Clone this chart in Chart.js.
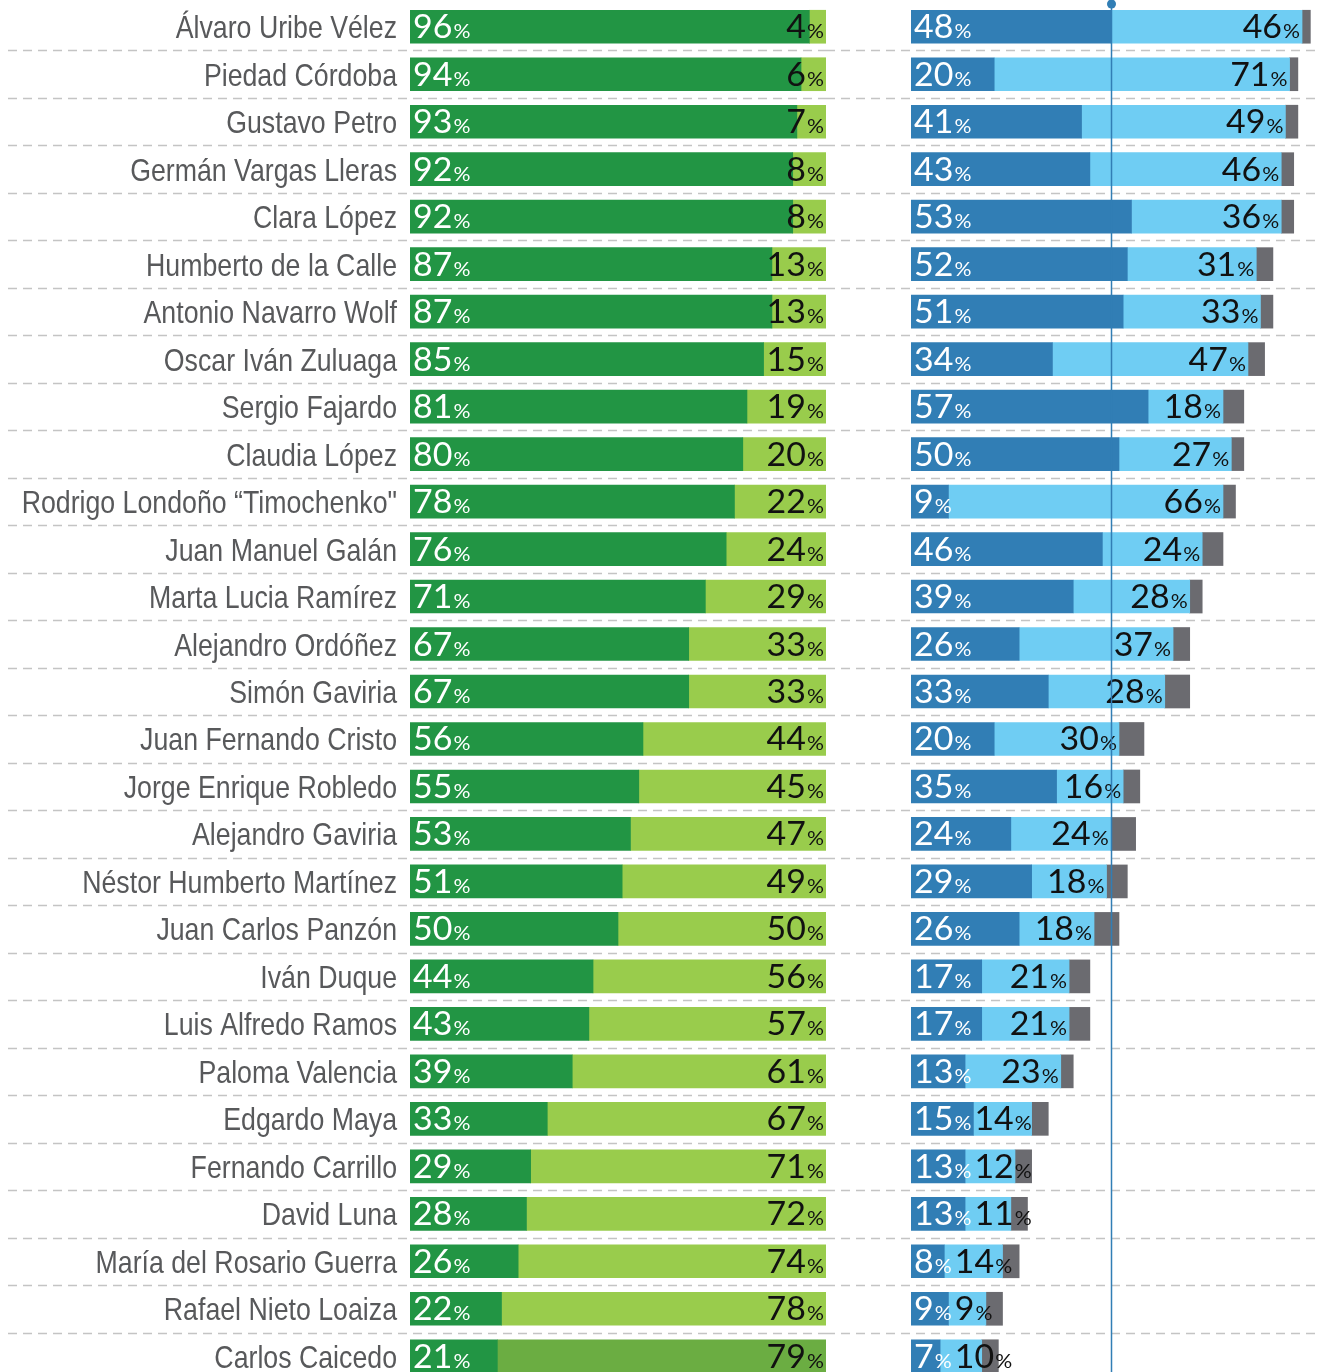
<!DOCTYPE html>
<html>
<head>
<meta charset="utf-8">
<script src="https://cdn.jsdelivr.net/npm/chart.js@4.4.1/dist/chart.umd.min.js"></script>
<style>
    html, body { margin: 0; padding: 0; background: #fff; overflow: hidden; }
    #wrap { position: relative; width: 1317px; height: 1372px; overflow: hidden; }
    #wrap canvas { position: absolute; top: 0; }
</style>
</head>
<body>
<div id="wrap">
    <canvas id="chartKnown" width="826" height="1380" style="left:0"></canvas>
    <canvas id="chartImage" width="501" height="1380" style="left:826px"></canvas>
</div>
<script>
const names = [
    'Álvaro Uribe Vélez', 'Piedad Córdoba', 'Gustavo Petro', 'Germán Vargas Lleras', 'Clara López',
    'Humberto de la Calle', 'Antonio Navarro Wolf', 'Oscar Iván Zuluaga', 'Sergio Fajardo', 'Claudia López',
    'Rodrigo Londoño “Timochenko"', 'Juan Manuel Galán', 'Marta Lucia Ramírez', 'Alejandro Ordóñez', 'Simón Gaviria',
    'Juan Fernando Cristo', 'Jorge Enrique Robledo', 'Alejandro Gaviria', 'Néstor Humberto Martínez', 'Juan Carlos Panzón',
    'Iván Duque', 'Luis Alfredo Ramos', 'Paloma Valencia', 'Edgardo Maya', 'Fernando Carrillo',
    'David Luna', 'María del Rosario Guerra', 'Rafael Nieto Loaiza', 'Carlos Caicedo'
];

// left panel: knows / doesn't know the person
const known   = [96, 94, 93, 92, 92, 87, 87, 85, 81, 80, 78, 76, 71, 67, 67, 56, 55, 53, 51, 50, 44, 43, 39, 33, 29, 28, 26, 22, 21];
const unknown = [4, 6, 7, 8, 8, 13, 13, 15, 19, 20, 22, 24, 29, 33, 33, 44, 45, 47, 49, 50, 56, 57, 61, 67, 71, 72, 74, 78, 79];

// right panel: favourable / unfavourable / no answer
const favorable   = [48, 20, 41, 43, 53, 52, 51, 34, 57, 50, 9, 46, 39, 26, 33, 20, 35, 24, 29, 26, 17, 17, 13, 15, 13, 13, 8, 9, 7];
const unfavorable = [46, 71, 49, 46, 36, 31, 33, 47, 18, 27, 66, 24, 28, 37, 28, 30, 16, 24, 18, 18, 21, 21, 23, 14, 12, 11, 14, 9, 10];
const noAnswer    = [2, 2, 3, 3, 3, 4, 3, 4, 5, 3, 3, 5, 3, 4, 6, 6, 4, 6, 5, 6, 5, 5, 3, 4, 4, 4, 4, 4, 4];

const referenceLine = 48;

const bigFont = '32px Lato';
const smallFont = '20px Lato';
const widen = 1.06;

// dashed separators between rows, across the whole canvas
const rowLines = {
    id: 'rowLines',
    beforeDatasetsDraw(chart, args, opts) {
        const ctx = chart.ctx;
        const y = chart.scales.y;
        ctx.save();
        ctx.strokeStyle = '#c4c4c4';
        ctx.lineWidth = 1.5;
        ctx.setLineDash([9, 6]);
        for (let i = 1; i < chart.data.labels.length; i++) {
            const py = Math.round((y.getPixelForValue(i - 1) + y.getPixelForValue(i)) / 2) + 0.5;
            ctx.beginPath();
            ctx.moveTo(opts.from || 0, py);
            ctx.lineTo(chart.width, py);
            ctx.stroke();
        }
        ctx.restore();
    }
};

// names drawn narrow (Liberation Sans squeezed like Arial Narrow)
const nameLabels = {
    id: 'nameLabels',
    afterDraw(chart) {
        const ctx = chart.ctx;
        const y = chart.scales.y;
        const right = chart.chartArea.left - 13;
        const sx = 0.835;
        ctx.save();
        ctx.font = '32px "Liberation Sans", Arial, sans-serif';
        ctx.fillStyle = '#58595b';
        ctx.textAlign = 'right';
        ctx.textBaseline = 'alphabetic';
        ctx.scale(sx, 1);
        chart.data.labels.forEach((name, i) => {
            ctx.fillText(name, right / sx, y.getPixelForValue(i) + 11.5);
        });
        ctx.restore();
    }
};

function pctWidth(ctx, v) {
    ctx.font = bigFont;
    const w1 = ctx.measureText(String(v)).width;
    ctx.font = smallFont;
    const w2 = ctx.measureText('%').width;
    return (w1 + w2 + 1) * widen;
}

function drawPct(ctx, v, x, y, color) {
    ctx.save();
    ctx.translate(x, y);
    ctx.scale(widen, 1);
    ctx.fillStyle = color;
    ctx.textAlign = 'left';
    ctx.textBaseline = 'alphabetic';
    ctx.font = bigFont;
    ctx.fillText(String(v), 0, 0);
    const w1 = ctx.measureText(String(v)).width;
    ctx.font = smallFont;
    ctx.fillText('%', w1 + 1, 0);
    ctx.restore();
}

const valueLabels = {
    id: 'valueLabels',
    afterDatasetsDraw(chart, args, opts) {
        const ctx = chart.ctx;
        ctx.save();
        const first = chart.getDatasetMeta(0).data;
        const second = chart.getDatasetMeta(1).data;
        first.forEach((bar, i) => {
            const p = bar.getProps(['x', 'y', 'base'], true);
            const v = chart.data.datasets[0].data[i];
            const by = p.y + 11.5;
            drawPct(ctx, v, p.base + 3, by, '#fff');
            const darkEnd = p.base + 3 + pctWidth(ctx, v);

            const q = second[i].getProps(['x', 'y', 'base'], true);
            const v2 = chart.data.datasets[1].data[i];
            const w2 = pctWidth(ctx, v2);
            let start = q.x - 2 - w2;
            if (opts.push && start < darkEnd + 3) start = darkEnd + 3;
            drawPct(ctx, v2, start, by, '#111');
        });
        ctx.restore();
    }
};

const refLine = {
    id: 'refLine',
    afterDraw(chart) {
        const ctx = chart.ctx;
        const px = Math.round(chart.scales.x.getPixelForValue(referenceLine)) + 0.5;
        ctx.save();
        ctx.strokeStyle = '#317eb5';
        ctx.fillStyle = '#317eb5';
        ctx.lineWidth = 1.5;
        ctx.beginPath();
        ctx.moveTo(px, 4);
        ctx.lineTo(px, chart.height);
        ctx.stroke();
        ctx.beginPath();
        ctx.arc(px, 4, 4.5, 0, Math.PI * 2);
        ctx.fill();
        ctx.restore();
    }
};

const lastRow = names.length - 1;

new Chart(document.getElementById('chartKnown'), {
    type: 'bar',
    data: {
        labels: names,
        datasets: [
            { data: known, backgroundColor: '#229544', barThickness: 33 },
            { data: unknown, backgroundColor: unknown.map((v, i) => i === lastRow ? '#6bad42' : '#99cc4c'), barThickness: 33 }
        ]
    },
    options: {
        indexAxis: 'y',
        responsive: false,
        animation: false,
        layout: { padding: { top: 3, bottom: 0, left: 410, right: 0 } },
        scales: {
            x: { stacked: true, min: 0, max: 100, display: false },
            y: { stacked: true, display: false }
        },
        plugins: {
            legend: { display: false },
            tooltip: { enabled: false },
            rowLines: { from: 8 },
            valueLabels: { push: false }
        }
    },
    plugins: [rowLines, valueLabels, nameLabels]
});

new Chart(document.getElementById('chartImage'), {
    type: 'bar',
    data: {
        labels: names,
        datasets: [
            { data: favorable, backgroundColor: '#317eb5', barThickness: 33 },
            { data: unfavorable, backgroundColor: '#6fcdf3', barThickness: 33 },
            { data: noAnswer, backgroundColor: '#6b6b70', barThickness: 33 }
        ]
    },
    options: {
        indexAxis: 'y',
        responsive: false,
        animation: false,
        layout: { padding: { top: 3, bottom: 0, left: 85, right: 0 } },
        scales: {
            x: { stacked: true, min: 0, max: 100, display: false },
            y: { stacked: true, display: false }
        },
        plugins: {
            legend: { display: false },
            tooltip: { enabled: false },
            rowLines: { from: 0 },
            valueLabels: { push: true }
        }
    },
    plugins: [rowLines, valueLabels, refLine]
});
</script>
</body>
</html>
